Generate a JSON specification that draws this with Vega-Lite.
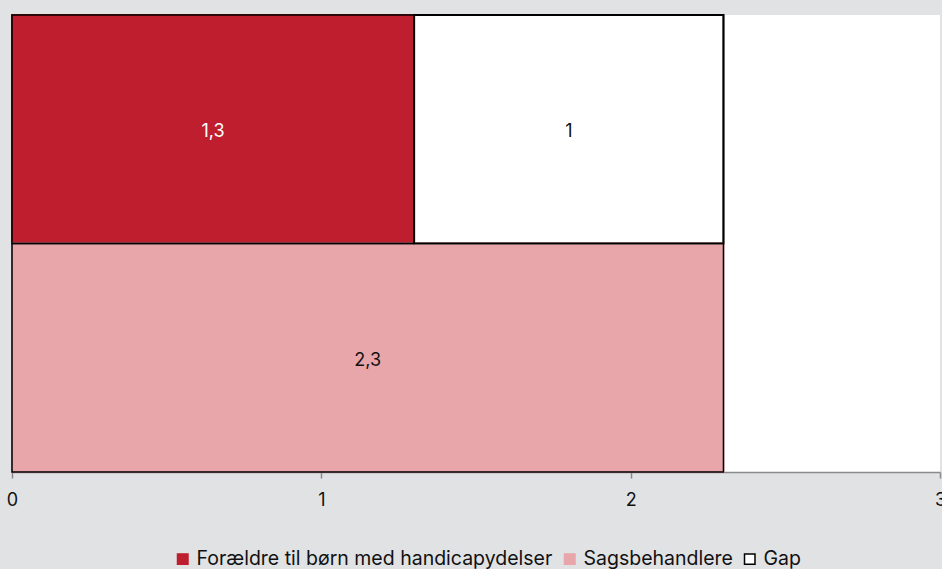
{
  "$schema": "https://vega.github.io/schema/vega-lite/v6.json",
  "width": 928,
  "height": 457,
  "autosize": "none",
  "padding": {"left": 12, "top": 15, "right": 2, "bottom": 97},
  "background": "#e1e2e4",
  "config": {
    "view": {"fill": "white", "stroke": null},
    "font": "Inter",
    "locale": {"number": {"decimal": ",", "thousands": ".", "grouping": [3], "currency": ["", " kr."]}}
  },
  "data": {
    "values": [
      {"row": "A", "serie": "Forældre til børn med handicapydelser", "value": 1.3, "ord": 1},
      {"row": "A", "serie": "Gap", "value": 1.0, "ord": 3},
      {"row": "B", "serie": "Sagsbehandlere", "value": 2.3, "ord": 2}
    ]
  },
  "transform": [
    {"stack": "value", "groupby": ["row"], "sort": [{"field": "ord"}], "as": ["x0", "x1"]},
    {"calculate": "(datum.x0 + datum.x1) / 2", "as": "mid"}
  ],
  "encoding": {
    "y": {"field": "row", "type": "nominal", "axis": null, "scale": {"paddingInner": 0, "paddingOuter": 0}},
    "x": {"field": "x0", "type": "quantitative", "scale": {"domain": [0, 3], "nice": false},
      "axis": {"values": [0, 1, 2, 3], "format": "d", "title": null, "grid": false, "domainColor": "#8a8a8a", "domainWidth": 1.5, "ticks": true, "tickColor": "#8a8a8a", "tickWidth": 1.5, "tickSize": 6, "labelFontSize": 18, "labelColor": "#111", "labelPadding": 13, "labelFlush": false}},
    "x2": {"field": "x1"}
  },
  "layer": [
    {
      "mark": {"type": "bar", "strokeWidth": 2},
      "encoding": {
        "color": {"field": "serie", "type": "nominal",
          "scale": {"domain": ["Forældre til børn med handicapydelser", "Sagsbehandlere", "Gap"], "range": ["#be1e2d", "#e8a6ab", "#ffffff"]},
          "legend": {"title": null, "orient": "none", "direction": "horizontal", "legendX": 161, "legendY": 534, "symbolType": "square", "symbolSize": 110, "labelLimit": 0, "labelFontSize": 19.5, "labelColor": "#111", "columnPadding": 7, "symbolOffset": 0, "labelOffset": 4}
        },
        "stroke": {"field": "serie", "type": "nominal",
          "scale": {"domain": ["Forældre til børn med handicapydelser", "Sagsbehandlere", "Gap"], "range": ["#be1e2d", "#e8a6ab", "#000000"]},
          "legend": {"title": null, "orient": "none", "direction": "horizontal", "legendX": 161, "legendY": 534, "symbolType": "square", "symbolSize": 110, "labelLimit": 0, "labelFontSize": 19.5, "labelColor": "#111", "columnPadding": 7, "symbolOffset": 0, "labelOffset": 4}
        }
      }
    },
    {
      "mark": {"type": "bar", "fill": null, "fillOpacity": 0, "stroke": "black", "strokeWidth": 1.5},
      "encoding": {}
    },
    {
      "mark": {"type": "text", "fontSize": 18, "dy": 3},
      "encoding": {
        "x": {"field": "mid", "type": "quantitative"},
        "x2": null,
        "text": {"field": "value", "type": "quantitative", "format": "~r"},
        "color": {"condition": {"test": "datum.serie === 'Forældre til børn med handicapydelser'", "value": "white"}, "value": "#111"}
      }
    }
  ]
}
